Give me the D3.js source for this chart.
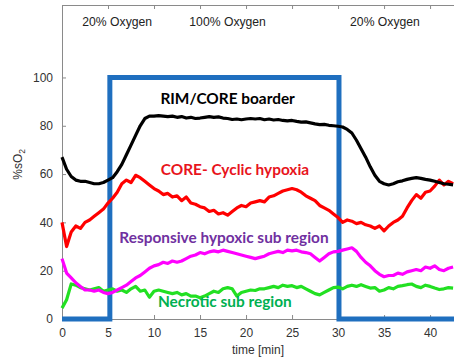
<!DOCTYPE html>
<html>
<head>
<meta charset="utf-8">
<script src="https://cdn.jsdelivr.net/npm/d3@7"></script>
<style>
  body { margin: 0; background: #fff; }
  svg { display: block; }
</style>
</head>
<body>
<div id="chart"></div>
<script>
// time axis (min), sampled every 0.5 min
const time = [0, 0.5, 1, 1.5, 2, 2.5, 3, 3.5, 4, 4.5, 5, 5.5, 6, 6.5, 7, 7.5, 8, 8.5, 9, 9.5,
  10, 10.5, 11, 11.5, 12, 12.5, 13, 13.5, 14, 14.5, 15, 15.5, 16, 16.5, 17, 17.5, 18, 18.5, 19, 19.5,
  20, 20.5, 21, 21.5, 22, 22.5, 23, 23.5, 24, 24.5, 25, 25.5, 26, 26.5, 27, 27.5, 28, 28.5, 29, 29.5,
  30, 30.5, 31, 31.5, 32, 32.5, 33, 33.5, 34, 34.5, 35, 35.5, 36, 36.5, 37, 37.5, 38, 38.5, 39, 39.5,
  40, 40.5, 41, 41.5, 42, 42.5];

const rimCore = [67, 62, 59, 57.5, 57, 57, 56.5, 56, 56, 56.5, 57.5, 58.5, 61, 64, 68, 72, 76, 80, 83, 84,
  84, 84.2, 84, 83.8, 84, 83.5, 83.8, 83.2, 83.5, 83, 83.2, 83.5, 83.8, 83.5, 83.7, 83.2, 83, 82.6, 82.8, 82.5,
  82.8, 83, 82.8, 83, 82.5, 82.8, 82.4, 82.6, 82.2, 82, 82.2, 81.8, 81.5, 81.6, 81.2, 80.8, 80.5, 80.6, 80.2, 80,
  79.8, 79.5, 78.5, 77, 74, 70.5, 67, 63, 59.5, 57, 56, 55.5, 56, 56.8, 57.2, 57.8, 58.2, 58.5, 58.2, 57.8,
  57.5, 57, 56.5, 56, 55.8, 55.5];

const coreCyclic = [40, 30, 36, 38.5, 37.5, 40, 41, 42.5, 44, 45.5, 48, 50, 52.5, 56, 57.5, 56.5, 59.5, 58.5, 57, 55.5,
  54, 53, 51.5, 52, 50.5, 51, 49, 50.5, 48, 47.5, 46.5, 46, 44.5, 45, 43.5, 44, 43, 44.5, 46, 47,
  46.5, 48, 48.5, 49, 48.5, 50.5, 51, 52, 53, 53.5, 54, 53.5, 52.5, 51, 50, 49, 47, 46, 45, 43.5,
  42, 40, 41, 40.5, 39.5, 40, 39, 38.5, 37.5, 38.5, 36.5, 38.5, 40, 41, 42.5, 46, 49, 51.5, 50, 52.5,
  53, 55, 57.5, 55.5, 57, 56];

const responsive = [25, 19, 17, 15, 13.5, 12, 12, 11.5, 12, 11, 10.5, 11, 12, 13, 14, 15.5, 17, 18, 19.5, 21,
  22, 22.5, 23.5, 23, 24, 23.5, 24, 25, 26, 26.5, 27.5, 27, 27.8, 28.2, 27.8, 28.5, 28, 27.5, 27, 26.5,
  26, 25.5, 25, 25.5, 26, 27, 27.5, 28, 27.5, 28.5, 28.2, 28.5, 27.8, 27.5, 27, 25.5, 24, 25.5, 27, 27.8,
  28, 28.5, 29, 29.5, 28, 25.5, 23.5, 22, 20, 18.5, 17.5, 18, 18, 19, 18.5, 19.5, 20, 20.5, 20, 21.5,
  21, 22, 20.5, 20, 21, 21.5];

const necrotic = [4.5, 8, 14.5, 14, 13, 12.5, 12, 12.5, 13, 11.5, 12, 12.5, 11.5, 12, 11, 12.5, 13.5, 11.5, 12, 9,
  11.5, 12, 11.5, 11, 10.5, 11, 10, 10.5, 9.5, 9.5, 8.8, 9.5, 10.5, 11.5, 11, 12.5, 13, 12.5, 9.5, 11,
  11.5, 12, 11.8, 12.5, 12.5, 13, 13.5, 13, 14, 13.5, 13.8, 13, 13.5, 12.5, 11.5, 10.5, 10, 11, 12, 13,
  13.2, 12.5, 13.5, 14, 13.5, 14.2, 13.5, 12.8, 13, 11.5, 12, 13, 12.5, 13.5, 13.8, 14.2, 14.5, 13.5, 13, 14,
  13.5, 12.8, 12.2, 12.5, 13, 12.8];

// oxygen protocol (step)
const o2Time = [0, 5.2, 5.2, 30.1, 30.1, 43];
const o2Level = [0, 0, 100, 100, 0, 0];

const xTicks = [0, 5, 10, 15, 20, 25, 30, 35, 40];
const yTicks = [0, 20, 40, 60, 80, 100];

const width = 454, height = 360;
const margin = { top: 5, left: 62, bottom: 41 };

const svg = d3.select("#chart").append("svg")
  .attr("width", width)
  .attr("height", height)
  .style("font-family", "'Liberation Sans', Arial, sans-serif");

const x = d3.scaleLinear().domain([0, 42.6]).range([margin.left, width]);
const y = d3.scaleLinear().domain([0, 130]).range([height - margin.bottom, margin.top]);

// axes, MATLAB style: inward ticks, box on top
const axisColor = "#8a8a8a";
const gx = svg.append("g").attr("transform", `translate(0,${y(0)})`)
  .call(d3.axisBottom(x).tickValues(xTicks).tickSizeInner(-4).tickSizeOuter(0).tickPadding(9));
const gxTop = svg.append("g").attr("transform", `translate(0,${y(130)})`)
  .call(d3.axisTop(x).tickValues(xTicks).tickSizeInner(-4).tickSizeOuter(0).tickFormat(""));
const gy = svg.append("g").attr("transform", `translate(${x(0)},0)`)
  .call(d3.axisLeft(y).tickValues(yTicks).tickSizeInner(-4).tickSizeOuter(0).tickPadding(9));

[gx, gxTop, gy].forEach(g => {
  g.selectAll(".domain").attr("stroke", axisColor);
  g.selectAll(".tick line").attr("stroke", axisColor);
  g.selectAll(".tick text").attr("fill", "#333").style("font-size", "12px");
});

// axis titles
svg.append("text")
  .attr("x", x(21.3)).attr("y", 354)
  .attr("text-anchor", "middle")
  .attr("fill", "#333")
  .style("font-size", "12px")
  .text("time [min]");

const yl = svg.append("text")
  .attr("transform", `translate(22,${y(64)}) rotate(-90)`)
  .attr("text-anchor", "middle")
  .attr("fill", "#333")
  .style("font-size", "12px");
yl.append("tspan").text("%sO");
yl.append("tspan").attr("dy", 3).style("font-size", "8.5px").text("2");

// oxygen condition headers
const headers = [["20% Oxygen", 6], ["100% Oxygen", 18], ["20% Oxygen", 35.1]];
svg.selectAll(".hdr").data(headers).enter().append("text")
  .attr("class", "hdr")
  .attr("x", d => x(d[1]))
  .attr("y", 26)
  .attr("text-anchor", "middle")
  .attr("fill", "#222")
  .style("font-size", "12.2px")
  .text(d => d[0]);

// oxygen step line
const stepLine = d3.line().x((d, i) => x(o2Time[i])).y(d => y(d));
svg.append("path")
  .attr("d", stepLine(o2Level))
  .attr("fill", "none")
  .attr("stroke", "#1f6fbf")
  .attr("stroke-width", 5);

// traces
const line = d3.line().x((d, i) => x(time[i])).y(d => y(d)).curve(d3.curveLinear);
const series = [
  { values: necrotic, color: "#22e022" },
  { values: responsive, color: "#ff00ff" },
  { values: coreCyclic, color: "#ff0000" },
  { values: rimCore, color: "#000000" }
];
svg.selectAll(".trace").data(series).enter().append("path")
  .attr("class", "trace")
  .attr("d", d => line(d.values))
  .attr("fill", "none")
  .attr("stroke", d => d.color)
  .attr("stroke-width", 3.2)
  .attr("stroke-linejoin", "round");

// region labels
const labels = [
  { text: "RIM/CORE boarder", t: 18, v: 89, color: "#000000" },
  { text: "CORE- Cyclic hypoxia", t: 18.8, v: 59.5, color: "#e8141c" },
  { text: "Responsive hypoxic sub region", t: 17.6, v: 31.5, color: "#7030a0" },
  { text: "Necrotic sub region", t: 17.7, v: 5, color: "#00b050" }
];
svg.selectAll(".lbl").data(labels).enter().append("text")
  .attr("class", "lbl")
  .attr("x", d => x(d.t))
  .attr("y", d => y(d.v))
  .attr("text-anchor", "middle")
  .attr("fill", d => d.color)
  .style("font-family", "Lato, 'Open Sans', sans-serif")
  .style("font-weight", "bold")
  .style("font-size", "15.4px")
  .text(d => d.text);
</script>
</body>
</html>
